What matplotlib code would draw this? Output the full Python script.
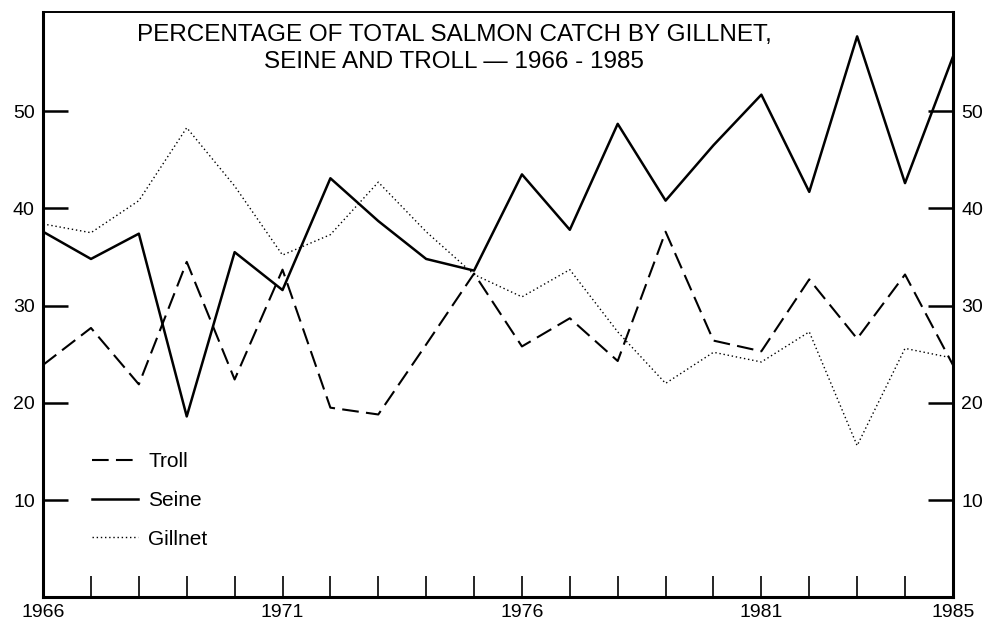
import numpy as np
import matplotlib.pyplot as plt

plt.rcParams['font.family'] = ['Liberation Sans', 'DejaVu Sans']

# 数据
years = np.arange(1966, 1986)
troll = [23.9, 27.7, 21.9, 34.5, 22.4, 33.7, 19.5, 18.8, 26.0, 33.3,
         25.8, 28.7, 24.3, 37.6, 26.4, 25.3, 32.7, 26.6, 33.2, 23.9]
seine = [37.6, 34.8, 37.4, 18.6, 35.5, 31.6, 43.1, 38.7, 34.8, 33.6,
         43.5, 37.8, 48.7, 40.8, 46.5, 51.7, 41.7, 57.7, 42.6, 55.6]
gillnet = [38.4, 37.5, 40.8, 48.3, 42.3, 35.2, 37.3, 42.7, 37.6, 33.2,
           30.9, 33.7, 27.3, 22.0, 25.2, 24.2, 27.3, 15.6, 25.6, 24.6]
ytick_vals = [10, 20, 30, 40, 50]
xtick_labels = {1966: '1966', 1971: '1971', 1976: '1976', 1981: '1981', 1985: '1985'}

fig = plt.figure(figsize=(10.02, 6.34), dpi=100)
ax = fig.add_axes([0.043, 0.058, 0.908, 0.923])

ax.plot(years, troll, color='black', lw=1.5, ls=(0, (8, 3.5)), label='Troll')
ax.plot(years, seine, color='black', lw=1.8, ls='-', label='Seine')
ax.plot(years, gillnet, color='black', lw=1.0, ls=(0, (1, 2)), label='Gillnet')

ax.set_xlim(1966, 1985)
ax.set_ylim(0, 60.2)

# 刻度
ax.set_xticks(years)
ax.set_xticklabels([xtick_labels.get(y, '') for y in years])
ax.set_yticks(ytick_vals)
ax.tick_params(axis='x', direction='in', length=15, width=1.2, labelsize=14, pad=5)
ax.tick_params(axis='y', direction='in', length=18, width=1.8, labelsize=14,
               left=True, right=True, labelleft=True, labelright=True, pad=6)

for side in ['left', 'bottom', 'right']:
    ax.spines[side].set_linewidth(2.2)
ax.spines['top'].set_linewidth(1.4)

ax.text(0.452, 0.98, 'PERCENTAGE OF TOTAL SALMON CATCH BY GILLNET,\nSEINE AND TROLL \u2014 1966 - 1985',
        transform=ax.transAxes, ha='center', va='top', fontsize=17.5, linespacing=1.3)

ax.legend(loc='lower left', bbox_to_anchor=(0.054, 0.083), frameon=False, fontsize=15,
          handlelength=2.2, labelspacing=0.95, handletextpad=0.5,
          borderpad=0, borderaxespad=0)

plt.savefig('out.png', dpi=100)
